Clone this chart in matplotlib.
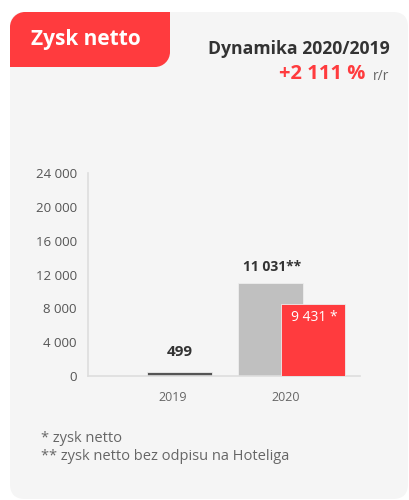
import matplotlib.pyplot as plt
from matplotlib.patches import PathPatch, FancyBboxPatch
from matplotlib.path import Path

plt.rcParams['font.family'] = ['Open Sans', 'DejaVu Sans']

# data
years = ["2019", "2020"]
net_2019 = [499]
adj_2020 = [11031]          # zysk netto bez odpisu (grey bar)
net_2020 = [8500]           # drawn height of the red bar
bar_labels = ["499", "11 031**", "9 431 *"]
yticks = [0, 4000, 8000, 12000, 16000, 20000, 24000]
ytick_labels = ["0", "4 000", "8 000", "12 000", "16 000", "20 000", "24 000"]
dynamics = "+2 111 %"
footnotes = ["* zysk netto", "** zysk netto bez odpisu na Hoteliga"]

RED = "#ff3b3e"
W, H = 409, 500
fig = plt.figure(figsize=(W / 100, H / 100), dpi=100)
fig.patch.set_facecolor("white")

# background card in pixel coords
bg = fig.add_axes([0, 0, 1, 1])
bg.set_xlim(0, W)
bg.set_ylim(H, 0)
bg.axis("off")
bg.add_patch(FancyBboxPatch((10, 12), 398, 487, boxstyle="round,pad=0,rounding_size=15",
                            fc="#f5f5f5", ec="none"))

def tab_path(x0, y0, x1, y1, r):
    k = 0.5523 * r
    verts = [(x0, y1), (x0, y0 + r),
             (x0, y0 + r - k), (x0 + r - k, y0), (x0 + r, y0),
             (x1, y0), (x1, y1 - r),
             (x1, y1 - r + k), (x1 - r + k, y1), (x1 - r, y1),
             (x0, y1), (x0, y1)]
    codes = [Path.MOVETO, Path.LINETO, Path.CURVE4, Path.CURVE4, Path.CURVE4,
             Path.LINETO, Path.LINETO, Path.CURVE4, Path.CURVE4, Path.CURVE4,
             Path.LINETO, Path.CLOSEPOLY]
    return Path(verts, codes)

bg.add_patch(PathPatch(tab_path(10, 12, 170, 67, 15), fc=RED, ec="none"))
bg.text(31, 39, "Zysk netto", color="white", fontsize=15, fontweight="bold", va="center", ha="left")
bg.text(390, 49, "Dynamika 2020/2019", color="#333333", fontsize=12.7, fontweight="bold",
        va="center", ha="right")
bg.text(365, 74, dynamics, color=RED, fontsize=14.5, fontweight="bold", va="center", ha="right")
bg.text(373, 76, "r/r", color="#666666", fontsize=10, va="center", ha="left")
for i, note in enumerate(footnotes):
    bg.text(41, 439 + 17 * i, note, color="#666666", fontsize=10.5, va="center", ha="left")

# chart
ax = fig.add_axes([88 / W, 1 - 376 / H, (360 - 88) / W, (376 - 173) / H])
ax.set_facecolor("none")
bw = 0.575
ax.bar([0 + 0.058], net_2019, width=bw, color="#555555", edgecolor="#eeeeee", linewidth=0.6)
ax.bar([1 - 0.133], adj_2020, width=bw, color="#c0c0c0", edgecolor="#eeeeee", linewidth=0.6)
ax.bar([1 + 0.239], net_2020, width=bw, color=RED, edgecolor="#eeeeee", linewidth=0.6, zorder=3)

ax.text(0 + 0.058, net_2019[0] + 2300, bar_labels[0], ha="center", va="center",
        fontsize=11, fontweight="bold", color="#333333")
ax.text(1 - 0.12, adj_2020[0] + 1900, bar_labels[1], ha="center", va="center",
        fontsize=10, fontweight="bold", color="#333333")
ax.text(1 + 0.25, net_2020[0] - 1600, bar_labels[2], ha="center", va="center",
        fontsize=10, color="white", zorder=4)

ax.set_xlim(-0.752, 1.655)
ax.set_ylim(0, 24000)
ax.set_yticks(yticks)
ax.set_yticklabels(ytick_labels)
ax.set_xticks([0, 1])
ax.set_xticklabels(years)
ax.tick_params(axis="y", length=0, pad=8, labelsize=9.5, labelcolor="#555555")
ax.tick_params(axis="x", length=0, pad=11, labelsize=9, labelcolor="#666666")
for s in ["top", "right"]:
    ax.spines[s].set_visible(False)
for s in ["left", "bottom"]:
    ax.spines[s].set_color("#dddddd")
    ax.spines[s].set_linewidth(1.2)

fig.savefig("out.png", dpi=100)
